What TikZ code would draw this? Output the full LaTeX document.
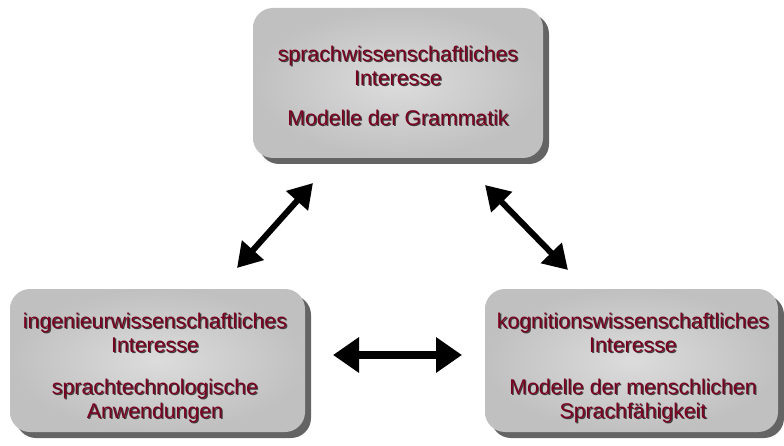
\documentclass[tikz,border=0pt]{standalone}
\usepackage{fontspec}
\setmainfont{Liberation Sans}
\usetikzlibrary{arrows.meta,shadows}
\definecolor{txtred}{HTML}{7A0020}
\definecolor{boxedge}{HTML}{C0C0C0}
\definecolor{boxmid}{HTML}{DCDCDC}
\definecolor{shadowgray}{HTML}{646464}
\begin{document}
\begin{tikzpicture}[x=1pt,y=-1pt,
  box/.style={rounded corners=20pt, draw=none, shading=radial,
    inner color=boxmid, outer color=boxedge,
    drop shadow={shadow xshift=6pt, shadow yshift=-6pt, fill=shadowgray, opacity=1}},
  txt/.style={align=center, text=txtred, inner sep=0pt,
    font=\fontsize{21.3}{23.5}\selectfont},
  txtsh/.style={txt, text=black!75},
  dbl/.style={line width=6pt, {Triangle[length=24pt,width=28pt]}-{Triangle[length=24pt,width=28pt]}},
  dblh/.style={line width=8pt, {Triangle[length=26pt,width=34pt]}-{Triangle[length=26pt,width=34pt]}}
]
\useasboundingbox (0,0) rectangle (784,446);
% boxes
\node[box, minimum width=290pt, minimum height=150pt] (top) at (398,83) {};
\node[box, minimum width=295pt, minimum height=143pt] (left) at (157.5,360.5) {};
\node[box, minimum width=293pt, minimum height=143pt] (right) at (631.5,360.5) {};
% texts with shadow
\node[txtsh] (topS) at (399.2,87.2) {sprachwissenschaftliches\\Interesse\\[17pt]Modelle der Grammatik};
\node[txt] (topT) at (398,86) {sprachwissenschaftliches\\Interesse\\[17pt]Modelle der Grammatik};
\node[txtsh] (leftS) at (156.2,369.2) {ingenieurwissenschaftliches\\Interesse\\[19pt]sprachtechnologische\\Anwendungen};
\node[txt] (leftT) at (155,368) {ingenieurwissenschaftliches\\Interesse\\[19pt]sprachtechnologische\\Anwendungen};
\node[txtsh] (rightS) at (634.2,369.2) {kognitionswissenschaftliches\\Interesse\\[19pt]Modelle der menschlichen\\Sprachfähigkeit};
\node[txt] (rightT) at (633,368) {kognitionswissenschaftliches\\Interesse\\[19pt]Modelle der menschlichen\\Sprachfähigkeit};
% arrow end points
\coordinate (a1) at (237,268);
\coordinate (a2) at (313,183);
\coordinate (b1) at (485,185);
\coordinate (b2) at (568,270);
\coordinate (c1) at (333,355);
\coordinate (c2) at (462,355);
\draw[dbl] (a1) -- (a2);
\draw[dbl] (b1) -- (b2);
\draw[dblh] (c1) -- (c2);
\end{tikzpicture}
\end{document}
